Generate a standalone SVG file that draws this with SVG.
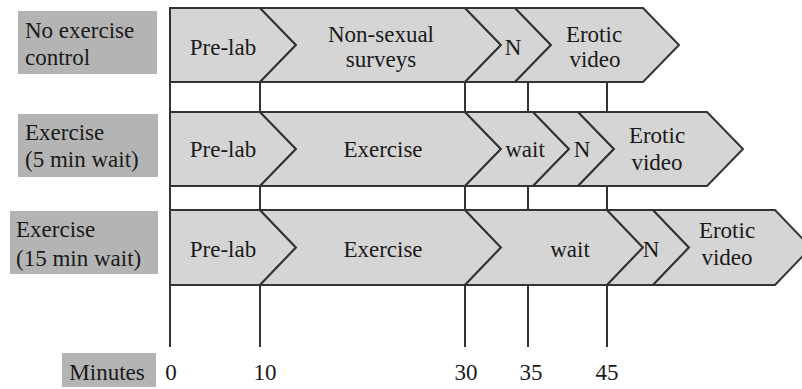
<svg xmlns="http://www.w3.org/2000/svg" width="802" height="389" viewBox="0 0 802 389">
<style>
.seg{fill:#d5d5d5;stroke:#333;stroke-width:2;stroke-linejoin:miter}
.lbl{fill:#b4b4b4}
.t{font-family:"Liberation Serif","Times New Roman",serif;font-size:23px;fill:#1a1a1a}
.c{text-anchor:middle}
.tick{stroke:#333;stroke-width:2;fill:none}
</style>
<rect width="802" height="389" fill="#ffffff"/>
<g id="connectors">
<path class="tick" d="M170 82V112M260 82V112M465 82V112M528 82V112M607 82V112"/>
<path class="tick" d="M170 186V210M260 186V210M465 186V210M528 186V210M607 186V210"/>
<path class="tick" d="M170 285V347M260 285V347M465 285V347M528 285V347M607 285V347"/>
</g>
<g id="label-row1"><rect class="lbl" x="18" y="11" width="139" height="63"/><text class="t" x="25" y="38">No exercise</text><text class="t" x="25" y="65">control</text></g>
<g id="label-row2"><rect class="lbl" x="18" y="114" width="140" height="63"/><text class="t" x="25" y="140">Exercise</text><text class="t" x="25" y="167">(5 min wait)</text></g>
<g id="label-row3"><rect class="lbl" x="10" y="211" width="148" height="63"/><text class="t" x="16" y="237">Exercise</text><text class="t" x="16" y="266">(15 min wait)</text></g>
<g id="label-minutes"><rect class="lbl" x="62" y="353" width="94" height="34"/><text class="t c" x="107" y="380">Minutes</text></g>
<g id="r1-prelab"><polygon class="seg" points="170,8 260,8 296,45 260,82 170,82"/><text class="t c" x="223" y="55">Pre-lab</text></g>
<g id="r1-surveys"><polygon class="seg" points="260,8 465,8 501,45 465,82 260,82 296,45"/><text class="t c" x="381" y="42">Non-sexual</text><text class="t c" x="381" y="67">surveys</text></g>
<g id="r1-n"><polygon class="seg" points="465,8 515,8 551,45 515,82 465,82 501,45"/><text class="t c" x="513" y="55">N</text></g>
<g id="r1-video"><polygon class="seg" points="515,8 643,8 679,45 643,82 515,82 551,45"/><text class="t c" x="594" y="42">Erotic</text><text class="t c" x="595" y="67">video</text></g>
<g id="r2-prelab"><polygon class="seg" points="170,112 260,112 296,149 260,186 170,186"/><text class="t c" x="223" y="157">Pre-lab</text></g>
<g id="r2-exercise"><polygon class="seg" points="260,112 465,112 501,149 465,186 260,186 296,149"/><text class="t c" x="383" y="157">Exercise</text></g>
<g id="r2-wait"><polygon class="seg" points="465,112 533,112 569,149 533,186 465,186 501,149"/><text class="t c" x="525" y="157">wait</text></g>
<g id="r2-n"><polygon class="seg" points="533,112 578,112 614,149 578,186 533,186 569,149"/><text class="t c" x="582" y="157">N</text></g>
<g id="r2-video"><polygon class="seg" points="578,112 707,112 743,149 707,186 578,186 614,149"/><text class="t c" x="657" y="143">Erotic</text><text class="t c" x="657" y="170">video</text></g>
<g id="r3-prelab"><polygon class="seg" points="170,210 260,210 296,247.5 260,285 170,285"/><text class="t c" x="223" y="257">Pre-lab</text></g>
<g id="r3-exercise"><polygon class="seg" points="260,210 465,210 501,247.5 465,285 260,285 296,247.5"/><text class="t c" x="383" y="257">Exercise</text></g>
<g id="r3-wait"><polygon class="seg" points="465,210 607,210 643,247.5 607,285 465,285 501,247.5"/><text class="t c" x="570" y="257">wait</text></g>
<g id="r3-n"><polygon class="seg" points="607,210 653,210 689,247.5 653,285 607,285 643,247.5"/><text class="t c" x="651" y="257">N</text></g>
<g id="r3-video"><polygon class="seg" points="653,210 775,210 811,247.5 775,285 653,285 689,247.5"/><text class="t c" x="727" y="238">Erotic</text><text class="t c" x="727" y="265">video</text></g>
<g id="axis-numbers">
<text class="t c" x="171" y="380">0</text>
<text class="t c" x="265" y="380">10</text>
<text class="t c" x="466" y="380">30</text>
<text class="t c" x="531" y="380">35</text>
<text class="t c" x="607" y="380">45</text>
</g>
</svg>
